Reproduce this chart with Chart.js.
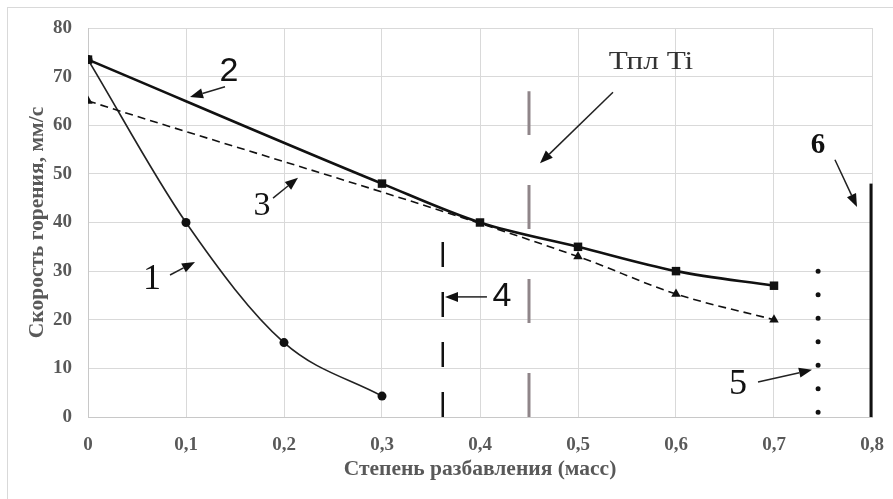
<!DOCTYPE html>
<html><head><meta charset="utf-8">
<script src="https://cdn.jsdelivr.net/npm/chart.js@4"></script>
<style>html,body{margin:0;padding:0;background:#fff}canvas{display:block}</style>
</head><body>
<canvas id="c" width="893" height="499"></canvas>
<script>
// ---- data ----
const xTicks = [0, 0.1, 0.2, 0.3, 0.4, 0.5, 0.6, 0.7, 0.8];
const yTicks = [0, 10, 20, 30, 40, 50, 60, 70, 80];
const dil1 = [0, 0.1, 0.2, 0.3];
const speed1 = [73.5, 40, 15.3, 4.3];
const dil2 = [0, 0.3, 0.4, 0.5, 0.6, 0.7];
const speed2 = [73.5, 48, 40, 35, 30, 27];
const dil3 = [0, 0.5, 0.6, 0.7];
const speed3 = [65, 33, 25.3, 20];
// vertical reference lines: x position, bottom value, top value
const line4 = {x: 0.362, y: [0, 36]};
const lineTi = {x: 0.45, y: [0, 67]};
const line5 = {x: 0.745, y: [1, 30]};
const line6 = {x: 0.799, y: [0, 48]};

const pts = (xs, ys) => xs.map((x, i) => ({x, y: ys[i]}));
const vpts = l => l.y.map(y => ({x: l.x, y}));

// annotations in data units
const labels = [
  {t: '1', x: 0.0653, y: 28.6, font: '36px "Liberation Serif"'},
  {t: '2', x: 0.1439, y: 71.4, font: '34px "Liberation Sans"'},
  {t: '3', x: 0.1776, y: 43.8, font: '34px "Liberation Serif"'},
  {t: '4', x: 0.4224, y: 25.1, font: '34px "Liberation Sans"'},
  {t: '5', x: 0.6633, y: 7.0, font: '36px "Liberation Serif"'},
  {t: '6', x: 0.7449, y: 56.3, font: 'bold 29px "Liberation Serif"'},
  {t: 'Тпл Ti', x: 0.5745, y: 73.4, font: '26px "Liberation Serif"', sx: 1.2, color: '#333'}
];
const arrows = [
  [0.0837, 29.2, 0.1092, 31.9],
  [0.1398, 67.9, 0.1041, 65.8],
  [0.1888, 45.0, 0.2143, 49.2],
  [0.5357, 66.8, 0.4612, 52.2],
  [0.4071, 24.7, 0.3643, 24.7],
  [0.6837, 7.2, 0.7388, 9.7],
  [0.7622, 52.9, 0.7847, 43.2]
];

const annot = {
  id: 'annot',
  beforeDraw(chart) {
    const ctx = chart.ctx;
    ctx.save();
    ctx.fillStyle = '#fff';
    ctx.fillRect(0, 0, chart.width, chart.height);
    ctx.strokeStyle = '#d9d9d9';
    ctx.lineWidth = 1;
    ctx.strokeRect(7.5, 7.5, 1000, 1000);
    ctx.restore();
  },
  afterDraw(chart) {
    const ctx = chart.ctx, xs = chart.scales.x, ys = chart.scales.y;
    ctx.save();
    ctx.textAlign = 'center';
    ctx.textBaseline = 'middle';
    labels.forEach(l => {
      const px = xs.getPixelForValue(l.x), py = ys.getPixelForValue(l.y);
      ctx.font = l.font;
      ctx.fillStyle = l.color || '#111';
      ctx.save();
      ctx.translate(px, py);
      ctx.scale(l.sx || 1, 1);
      ctx.fillText(l.t, 0, 2);
      ctx.restore();
    });
    ctx.strokeStyle = '#222';
    ctx.fillStyle = '#111';
    ctx.lineWidth = 1.5;
    arrows.forEach(a => {
      const x1 = xs.getPixelForValue(a[0]), y1 = ys.getPixelForValue(a[1]);
      const x2 = xs.getPixelForValue(a[2]), y2 = ys.getPixelForValue(a[3]);
      const ang = Math.atan2(y2 - y1, x2 - x1);
      const hl = 13, hw = 5;
      const bx = x2 - hl * Math.cos(ang), by = y2 - hl * Math.sin(ang);
      ctx.beginPath();
      ctx.moveTo(x1, y1);
      ctx.lineTo(bx, by);
      ctx.stroke();
      ctx.beginPath();
      ctx.moveTo(x2, y2);
      ctx.lineTo(bx + hw * Math.sin(ang), by - hw * Math.cos(ang));
      ctx.lineTo(bx - hw * Math.sin(ang), by + hw * Math.cos(ang));
      ctx.closePath();
      ctx.fill();
    });
    ctx.restore();
  }
};

const tickFont = {family: '"Liberation Serif"', size: 19, weight: 'bold'};
const titleFont = {family: '"Liberation Serif"', size: 21.5, weight: 'bold'};

new Chart(document.getElementById('c'), {
  type: 'scatter',
  data: {
    datasets: [
      {data: vpts(lineTi), showLine: true, borderColor: '#8f8589', borderWidth: 3, borderDash: [44, 50], pointRadius: 0},
      {data: vpts(line4), showLine: true, borderColor: '#111', borderWidth: 2.5, borderDash: [25, 25], pointRadius: 0},
      {data: vpts(line5), showLine: true, borderColor: '#111', borderWidth: 5, borderDash: [0, 23.5], borderCapStyle: 'round', pointRadius: 0},
      {data: vpts(line6), showLine: true, borderColor: '#111', borderWidth: 3, pointRadius: 0, clip: false},
      {data: pts(dil3, speed3), showLine: true, borderColor: '#111', borderWidth: 1.6, borderDash: [8, 5], cubicInterpolationMode: 'monotone',
       pointStyle: 'triangle', pointRadius: 5.5, pointBackgroundColor: '#111', pointBorderColor: '#111', pointBorderWidth: 0},
      {data: pts(dil1, speed1), showLine: true, borderColor: '#222', borderWidth: 1.6, cubicInterpolationMode: 'monotone',
       pointStyle: 'circle', pointRadius: 4.5, pointBackgroundColor: '#111', pointBorderColor: '#111', pointBorderWidth: 0},
      {data: pts(dil2, speed2), showLine: true, borderColor: '#111', borderWidth: 2.6, cubicInterpolationMode: 'monotone',
       pointStyle: 'rect', pointRadius: 6, pointBackgroundColor: '#111', pointBorderColor: '#111', pointBorderWidth: 0}
    ]
  },
  options: {
    responsive: false,
    animation: false,
    devicePixelRatio: 1,
    layout: {padding: {top: 28, right: 21, left: 0, bottom: 0}},
    plugins: {legend: {display: false}, tooltip: {enabled: false}},
    scales: {
      x: {
        type: 'linear', min: 0, max: 0.8,
        afterBuildTicks: s => { s.ticks = xTicks.map(v => ({value: v})); },
        afterFit: s => { s.height = 82; s.paddingRight = 0; s.paddingLeft = 0; },
        grid: {color: '#d9d9d9', drawTicks: false},
        border: {color: '#c8c8c8'},
        ticks: {font: tickFont, color: '#595959', padding: 17,
          callback: v => String(v).replace('.', ',')},
        title: {display: true, text: 'Степень разбавления (масс)', font: titleFont, color: '#595959', padding: {top: 0, bottom: 17}}
      },
      y: {
        min: 0, max: 80,
        afterBuildTicks: s => { s.ticks = yTicks.map(v => ({value: v})); },
        afterFit: s => { s.width = 88; },
        grid: {color: '#d9d9d9', drawTicks: false},
        border: {color: '#c8c8c8'},
        ticks: {font: tickFont, color: '#595959', padding: 16},
        title: {display: true, text: 'Скорость горения, мм/с', font: titleFont, color: '#595959', padding: {top: 25, bottom: 0}}
      }
    }
  },
  plugins: [annot]
});
</script>
</body></html>
